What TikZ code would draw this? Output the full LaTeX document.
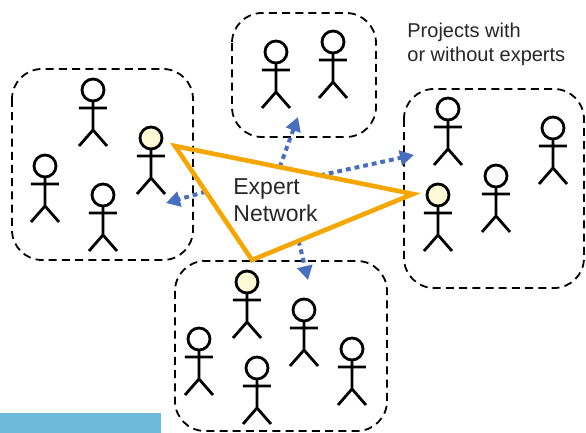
\documentclass[tikz,border=0pt]{standalone}
\usepackage{fontspec}
\setmainfont{Liberation Sans}
\usetikzlibrary{arrows.meta,calc}
\definecolor{netorange}{RGB}{246,166,0}
\definecolor{linkblue}{RGB}{72,110,192}
\definecolor{headyellow}{RGB}{255,249,215}
\definecolor{barblue}{RGB}{110,186,218}
\tikzset{
	projbox/.style={
		draw=black, line width=0.9pt,
		dash pattern=on 4pt off 2.6pt,
		rounded corners=15pt,
	},
	network/.style={draw=netorange, line width=2.3pt},
	link/.style={
		draw=linkblue, line width=2pt,
		dash pattern=on 2.4pt off 2pt,
		-{Triangle[length=7pt,width=7.5pt]},
	},
	desc/.style={text=black!85, align=left, inner sep=0pt},
	pics/person/.style={code={
		\draw[line width=1.4pt, fill=#1] (0,0) circle (11);
		\draw[line width=1.4pt] (0,11) -- (0,40) (-14,18) -- (14,18)
			(-14,56) -- (0,40) -- (14,56);
	}},
	pics/person/.default=white,
}

\begin{document}
\begin{tikzpicture}[x=0.5pt, y=-0.5pt]
\useasboundingbox (0,0) rectangle (586,433);

% project groups
\draw[projbox] (12,69) rectangle (193,260);
\draw[projbox] (232,13) rectangle (376,137);
\draw[projbox] (404,89) rectangle (584,288);
\draw[projbox] (175,261) rectangle (387,431);

\fill[barblue] (0,413) rectangle (161,433);

% left group
\pic at (93,90) {person};
\pic at (151,138) {person=headyellow};
\pic at (45,166) {person};
\pic at (103,195) {person};
% top group
\pic at (276,52) {person};
\pic at (333,42) {person};
% right group
\pic at (448,109) {person};
\pic at (438,195) {person=headyellow};
\pic at (496,176) {person};
\pic at (553,128) {person};
% bottom group
\pic at (247,282) {person=headyellow};
\pic at (304,310) {person};
\pic at (199,339) {person};
\pic at (257,368) {person};
\pic at (352,349) {person};

% expert network
\coordinate (tl) at (175,146);
\coordinate (tr) at (413,194);
\coordinate (tb) at (252,260);

\coordinate (toleft)   at (166,203);
\coordinate (totop)    at (298,117);
\coordinate (toright)  at (414,155);
\coordinate (tobottom) at (308,280);

\draw[link] ($(tl)!0.4!(tb)$) -- (toleft);
\draw[link] ($(tl)!0.44!(tr)$) -- (totop);
\draw[link] ($(tl)!0.61!(tr)$) -- (toright);
\draw[link] ($(tb)!0.29!(tr)$) -- (tobottom);

\draw[network] (tl) -- (tr) -- (tb) -- cycle;

% base west sits on the last line
\node (expert) [desc, anchor=base west, font=\fontsize{11.5}{13.5}\selectfont]
	at (233,222) {Expert\\Network};
\node (projects) [desc, anchor=base west, font=\fontsize{10}{12}\selectfont]
	at (407,62) {Projects with\\or without experts};

\end{tikzpicture}
\end{document}
